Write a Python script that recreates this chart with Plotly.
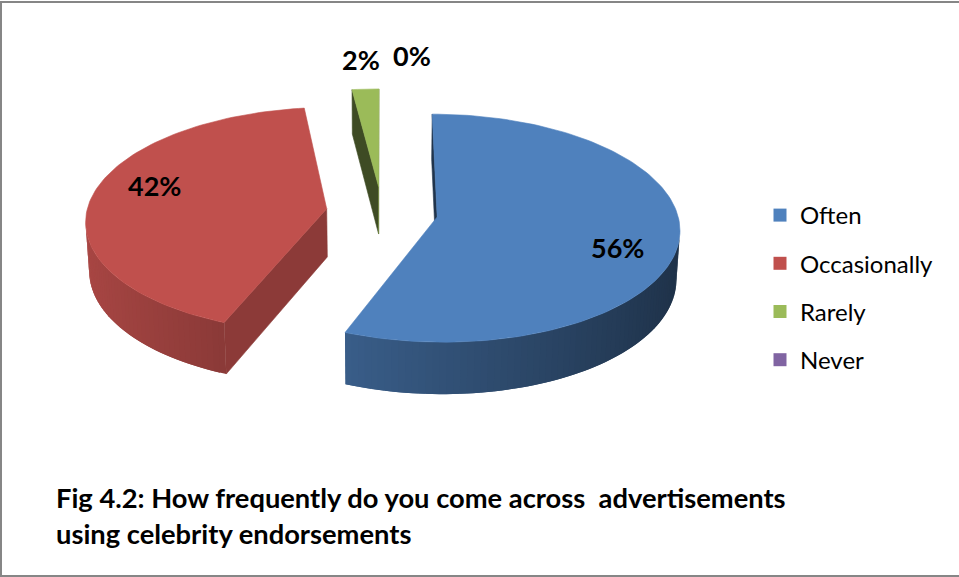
import numpy as np
import plotly.graph_objects as go

# ---- data -------------------------------------------------------------
categories = ["Often", "Occasionally", "Rarely", "Never"]
shares = [56, 42, 2, 0]
colors = ["#4F81BD", "#C0504D", "#9BBB59", "#8064A2"]
title_lines = [
    "Fig 4.2: How frequently do you come across\u00a0 advertisements",
    "using celebrity endorsements",
]

# ---- 3-D pie view settings ---------------------------------------------
W, H = 959, 577
TILT = np.radians(27.8)      # camera elevation
DIST = 9.0                   # camera distance (pie radius = 1)
FOCAL = 2160.0               # projection scale, px
ORIGIN = (382.0, 212.0)      # screen position of the pie centre
THICK = 0.23                 # slab thickness
EXPLODE = 0.233              # radial offset of every slice
FONT = "Lato"

ct, st = np.cos(TILT), np.sin(TILT)
CAM = np.array([0.0, DIST * st, -DIST * ct])   # camera position (X, Y, Z)


def project(X, Y, Z):
    """World (X right, Y up, Z away) -> screen pixels."""
    X, Y, Z = np.asarray(X, float), np.asarray(Y, float), np.asarray(Z, float)
    up = Y * ct + Z * st
    dep = DIST + Z * ct - Y * st
    return ORIGIN[0] + FOCAL * X / dep, ORIGIN[1] - FOCAL * up / dep


def shade(hex_color, f):
    h = hex_color.lstrip("#")
    r, g, b = (int(h[i:i + 2], 16) for i in (0, 2, 4))
    return "rgb(%d,%d,%d)" % tuple(max(0, min(255, round(c * f))) for c in (r, g, b))


def polygon(xs, ys, color, edge=0.6):
    xs, ys = list(xs), list(ys)
    return go.Scatter(
        x=xs + xs[:1], y=ys + ys[:1], mode="lines", fill="toself",
        fillcolor=color, line=dict(color=color, width=edge),
        hoverinfo="skip", showlegend=False,
    )


total = float(sum(shares))
bounds = np.concatenate([[0.0], np.cumsum(shares)]) / total * 360.0

slices = []
for i, v in enumerate(shares):
    a0, a1 = bounds[i], bounds[i + 1]
    mid = np.radians((a0 + a1) / 2)
    centre = EXPLODE * np.array([np.sin(mid), np.cos(mid)])
    slices.append(dict(i=i, v=v, a0=a0, a1=a1, mid=mid, c=centre))

traces = []
# back slices first so nearer ones paint over them
for s in sorted(slices, key=lambda d: -d["c"][1]):
    if s["v"] <= 0:
        continue
    col = colors[s["i"]]
    cx, cz = s["c"]
    n = max(2, int(np.ceil((s["a1"] - s["a0"]) / 1.5)) + 1)
    th = np.radians(np.linspace(s["a0"], s["a1"], n))
    rx, rz = cx + np.sin(th), cz + np.cos(th)

    # outer curved wall, in thin overlapping strips shaded by facing direction
    for k in range(n - 1):
        tm = (th[k] + th[k + 1]) / 2
        nrm = np.array([np.sin(tm), 0.0, np.cos(tm)])
        p = np.array([cx + np.sin(tm), -THICK / 2, cz + np.cos(tm)])
        if np.dot(CAM - p, nrm) <= 0:
            continue
        k2 = min(k + 2, n - 1)
        X = [rx[k], rx[k + 1], rx[k2], rx[k2], rx[k + 1], rx[k]]
        Z = [rz[k], rz[k + 1], rz[k2], rz[k2], rz[k + 1], rz[k]]
        Y = [0, 0, 0, -THICK, -THICK, -THICK]
        sx, sy = project(X, Y, Z)
        traces.append(polygon(sx, sy, shade(col, 0.63 - 0.25 * np.sin(tm)), edge=0))

    # the two radial cut faces
    for ang, sign in ((np.radians(s["a0"]), -1.0), (np.radians(s["a1"]), 1.0)):
        nx, nz = sign * np.cos(ang), -sign * np.sin(ang)
        ex, ez = cx + np.sin(ang), cz + np.cos(ang)
        p = np.array([(cx + ex) / 2, -THICK / 2, (cz + ez) / 2])
        if np.dot(CAM - p, np.array([nx, 0.0, nz])) <= 0:
            continue
        sx, sy = project([cx, ex, ex, cx], [0, 0, -THICK, -THICK], [cz, ez, ez, cz])
        traces.append(polygon(sx, sy, shade(col, 0.57 + 0.17 * nx)))

    # top face
    sx, sy = project(np.r_[cx, rx], np.zeros(n + 1), np.r_[cz, rz])
    traces.append(polygon(sx, sy, col))

# legend entries
for cat, col in zip(categories, colors):
    traces.append(go.Scatter(
        x=[None], y=[None], mode="markers", name=cat, legendgroup=cat,
        marker=dict(symbol="square", size=13, color=col),
    ))

fig = go.Figure(traces)

# percentage labels
annotations = []
for s in slices:
    frac = s["v"] / total
    if frac >= 0.05:
        ang, r = s["mid"] + np.radians(9), 0.77
    else:
        ang, r = s["mid"], 1.34
        if s["v"] == 0:
            ang, r = ang + np.radians(6), 1.40
    X = s["c"][0] + r * np.sin(ang)
    Z = s["c"][1] + r * np.cos(ang)
    lx, ly = project(X, 0.0, Z)
    annotations.append(dict(
        x=float(lx), y=float(ly), xref="x", yref="y", showarrow=False,
        text="<b>%d%%</b>" % s["v"], xanchor="center", yanchor="middle",
        font=dict(family=FONT, size=27, color="black"),
    ))

# caption under the chart
for j, line in enumerate(title_lines):
    annotations.append(dict(
        x=54, y=497 + 36 * j, xref="x", yref="y", showarrow=False,
        text="<b>%s</b>" % line, xanchor="left", yanchor="middle",
        font=dict(family=FONT, size=27.3, color="black"),
    ))

fig.update_layout(
    width=W, height=H, autosize=False,
    margin=dict(l=0, r=0, t=0, b=0, pad=0),
    paper_bgcolor="white", plot_bgcolor="white",
    xaxis=dict(range=[0, W], visible=False, fixedrange=True),
    yaxis=dict(range=[H, 0], visible=False, fixedrange=True),
    showlegend=True,
    legend=dict(
        x=760 / W, y=1 - 193 / H, xanchor="left", yanchor="top",
        traceorder="grouped", tracegroupgap=14,
        font=dict(family=FONT, size=24, color="black"),
        bgcolor="rgba(0,0,0,0)", itemclick=False, itemdoubleclick=False,
    ),
    annotations=annotations,
    shapes=[dict(type="rect", xref="x", yref="y", x0=1, y0=2, x1=990, y1=576,
                 line=dict(color="#868686", width=2), fillcolor="rgba(0,0,0,0)")],
)

fig.write_html("out.html")
